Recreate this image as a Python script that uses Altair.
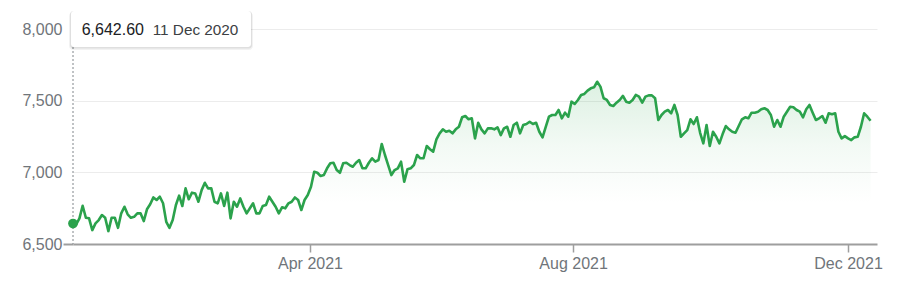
import altair as alt
import pandas as pd

# Index level, one value per trading day (11 Dec 2020 -> Dec 2021)
values_dec_jan = [6642.6, 6637, 6679, 6767, 6683, 6679, 6597, 6644, 6667, 6702, 6683, 6590,
                  6683, 6683, 6613, 6714, 6760, 6707, 6683, 6690, 6714, 6714, 6660, 6742,
                  6777, 6825, 6807, 6830, 6784, 6655, 6613, 6667, 6772, 6837, 6765]
values_feb_mar = [6888, 6812, 6858, 6853, 6795, 6876, 6927, 6888, 6888, 6795, 6784, 6853,
                  6765, 6858, 6679, 6795, 6760, 6818, 6760, 6714, 6749, 6784, 6714, 6714,
                  6765, 6772, 6830, 6795, 6760, 6714, 6756, 6749, 6784, 6795, 6825, 6807, 6737]
values_apr_jul = [6807, 6842, 6900, 7004, 6997, 6974, 6981, 7028, 7063, 7067, 7016, 6997,
                  7063, 7067, 7051, 7039, 7067, 7086, 7028, 7028, 7067, 7098, 7074, 7086,
                  7198, 7121, 7051, 6981, 7016, 7028, 7074, 6934, 7021, 7028, 7051, 7121,
                  7098, 7098, 7184, 7161, 7144, 7230, 7272, 7300, 7283, 7290, 7272, 7300,
                  7318, 7384, 7393, 7370, 7377, 7237, 7346, 7300, 7272, 7307, 7307, 7300,
                  7314, 7260, 7307, 7318, 7248, 7330, 7346, 7272, 7330, 7337, 7353, 7337,
                  7346, 7283, 7244, 7318, 7388, 7400, 7400, 7435, 7377, 7416, 7388, 7493,
                  7477, 7505]
values_aug_dec = [7540, 7547, 7570, 7586, 7593, 7632, 7598, 7517, 7505, 7470, 7463, 7486,
                  7505, 7533, 7493, 7486, 7505, 7540, 7528, 7486, 7528, 7537, 7537, 7517,
                  7365, 7400, 7423, 7435, 7412, 7470, 7400, 7248, 7272, 7295, 7370, 7337,
                  7384, 7276, 7202, 7330, 7184, 7283, 7248, 7202, 7267, 7323, 7300, 7283,
                  7276, 7323, 7370, 7384, 7377, 7416, 7416, 7423, 7440, 7447, 7435, 7400,
                  7318, 7365, 7318, 7388, 7423, 7458, 7454, 7435, 7423, 7384, 7440, 7470,
                  7416, 7365, 7377, 7393, 7346, 7412, 7405, 7412, 7283, 7237, 7253, 7237,
                  7225, 7244, 7248, 7318, 7412, 7388, 7360]

values = values_dec_jan + values_feb_mar + values_apr_jul + values_aug_dec

tick_index = [73.7, 155.5, 241.0]
tick_labels = ["Apr 2021", "Aug 2021", "Dec 2021"]
y_ticks = [6500, 7000, 7500, 8000]
tip_date = "11 Dec 2020"

GREEN = "#2ba24c"
GREY_TXT = "#70757a"
AXIS_GREY = "#9e9e9e"
FONT = "Liberation Sans"

df = pd.DataFrame({"i": list(range(len(values))), "v": values})

label_expr = ""
for idx, lab in zip(tick_index, tick_labels):
    label_expr += f"datum.value == {idx} ? '{lab}' : "
label_expr += "''"

x_enc = alt.X(
    "i:Q",
    scale=alt.Scale(domain=[0, 250], nice=False, zero=False),
    axis=alt.Axis(
        values=tick_index, labelExpr=label_expr, grid=False, title=None,
        domainColor=AXIS_GREY, domainWidth=2, tickColor=AXIS_GREY, tickWidth=1.5,
        tickSize=8, labelPadding=3, labelFontSize=16, labelColor=GREY_TXT,
        labelFont=FONT, labelFlush=False,
    ),
)
y_enc = alt.Y(
    "v:Q",
    scale=alt.Scale(domain=[6500, 8000], nice=False, zero=False),
    axis=alt.Axis(
        values=y_ticks, format=",.0f", title=None, domain=False,
        grid=True,
        gridColor={"condition": {"test": "datum.value == 6500", "value": "transparent"}, "value": "#ececec"},
        tickColor={"condition": {"test": "datum.value == 6500", "value": AXIS_GREY}, "value": "transparent"},
        tickWidth=2, tickSize=10, labelPadding=1, labelFontSize=16,
        labelColor=GREY_TXT, labelFont=FONT,
    ),
)

base = alt.Chart(df)

area = base.mark_area(
    line=False,
    color=alt.Gradient(
        gradient="linear",
        stops=[
            alt.GradientStop(color="rgba(52,168,83,0.17)", offset=0),
            alt.GradientStop(color="rgba(52,168,83,0.06)", offset=0.4),
            alt.GradientStop(color="rgba(52,168,83,0)", offset=0.75),
        ],
        x1=1, x2=1, y1=0, y2=1,
    ),
).encode(x=x_enc, y=y_enc, y2=alt.datum(6500))

line = base.mark_line(color=GREEN, strokeWidth=2.6, strokeJoin="round").encode(x=x_enc, y=y_enc)

first = base.transform_filter("datum.i == 0")

rule = first.mark_rule(color="#80868b", strokeDash=[2, 2], strokeWidth=1).encode(
    x=x_enc, y=alt.value(18), y2=alt.value(215)
)

dot = first.mark_circle(size=95, color=GREEN, opacity=1).encode(x=x_enc, y=y_enc)

one = pd.DataFrame({"d": [tip_date]})
shadow1 = alt.Chart(one).mark_rect(fill="#000000", opacity=0.05, cornerRadius=4).encode(
    x=alt.value(-4), x2=alt.value(180), y=alt.value(-17), y2=alt.value(21)
)
shadow2 = alt.Chart(one).mark_rect(fill="#000000", opacity=0.08, cornerRadius=3).encode(
    x=alt.value(-3), x2=alt.value(179), y=alt.value(-18), y2=alt.value(19.5)
)
box = alt.Chart(one).mark_rect(fill="white", cornerRadius=3).encode(
    x=alt.value(-2), x2=alt.value(178), y=alt.value(-18), y2=alt.value(18)
)

tip_val = first.transform_calculate(lbl="format(datum.v, ',.2f')").mark_text(
    align="left", baseline="middle", fontSize=16, color="#202124", font=FONT
).encode(text="lbl:N", x=alt.value(8.7), y=alt.value(0.5))

tip_dt = alt.Chart(one).mark_text(
    align="left", baseline="middle", fontSize=15.3, color="#3c4043", font=FONT
).encode(text="d:N", x=alt.value(79.7), y=alt.value(0.5))

chart = alt.layer(area, line, rule, dot, shadow1, shadow2, box, tip_val, tip_dt).properties(
    width=804, height=215,
    padding={"left": 73, "top": 29, "right": 26, "bottom": 54},
    autosize=alt.AutoSizeParams(type="none"),
    background="white",
).configure_view(stroke=None)

chart.save("out.html", embed_options={"renderer": "svg", "actions": False})
